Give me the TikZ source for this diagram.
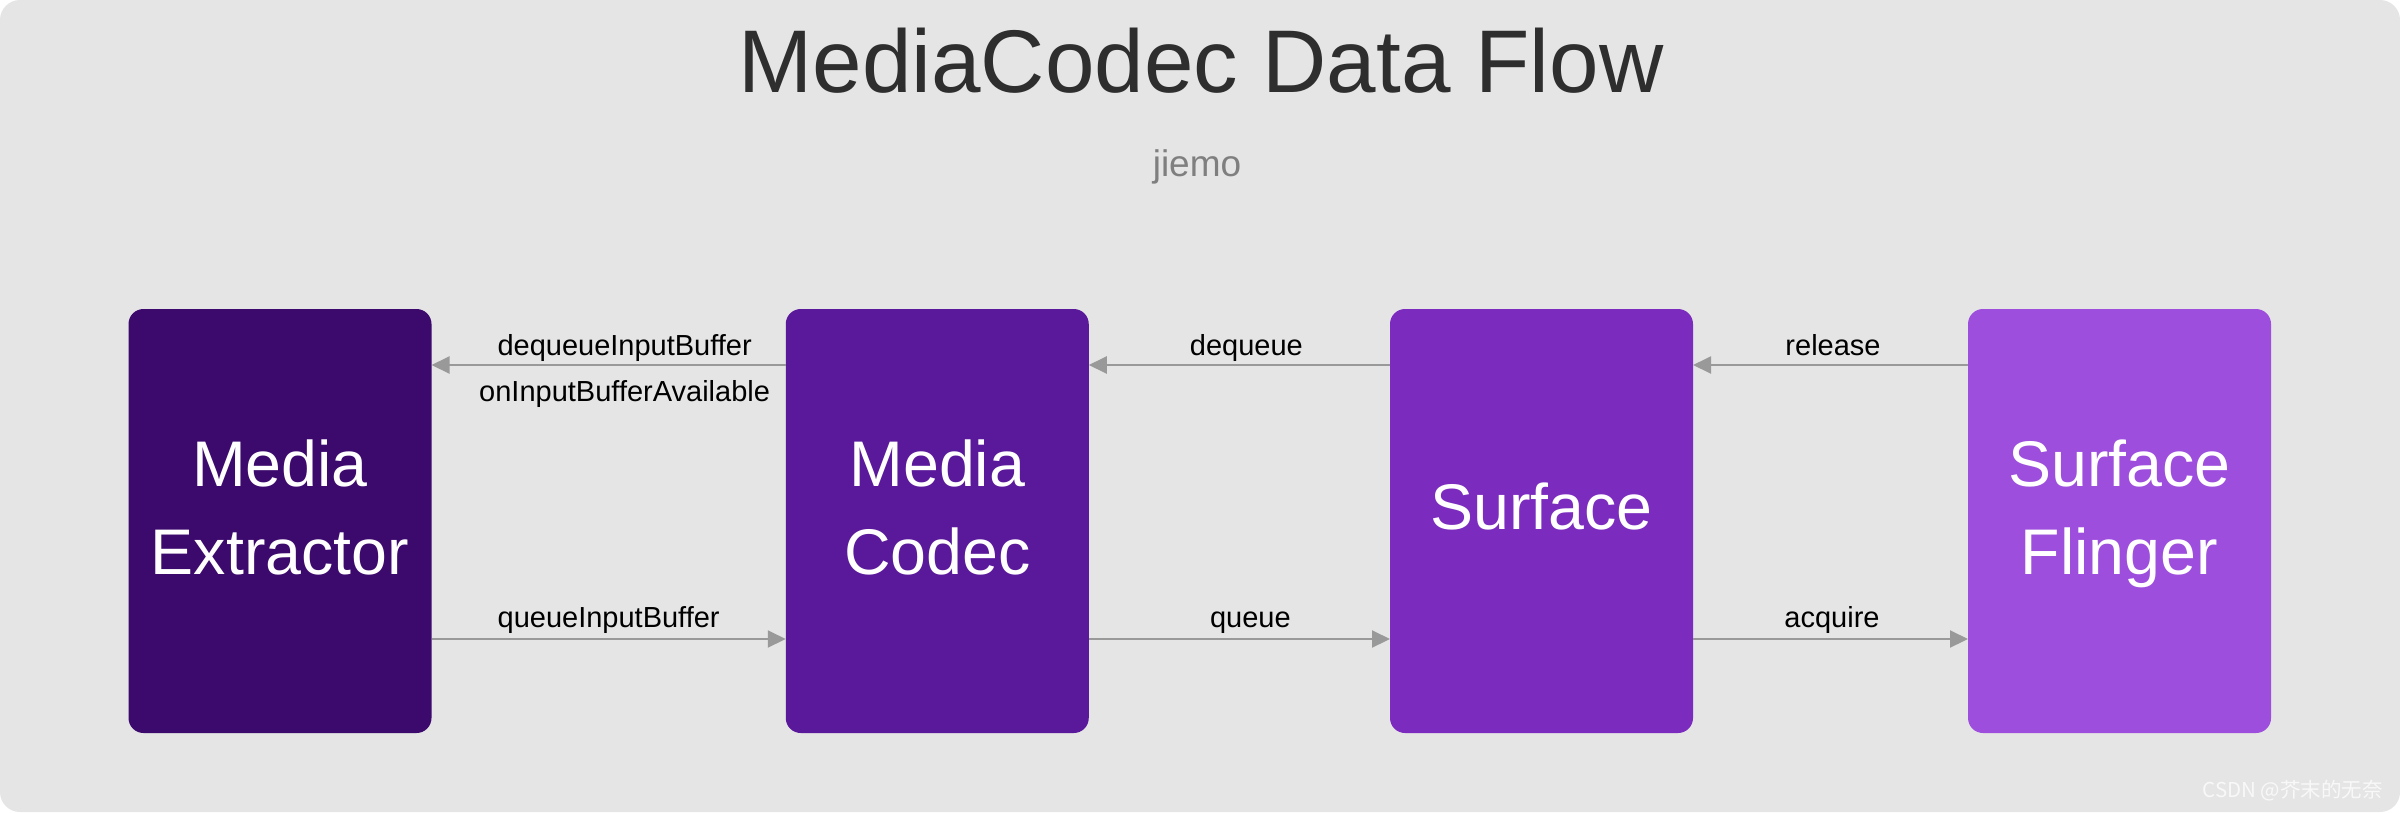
\documentclass[tikz,border=0pt]{standalone}
\usepackage{fontspec}
\setmainfont{Liberation Sans}
\newfontfamily\cjkfont{Noto Sans CJK SC}
\usetikzlibrary{arrows.meta}
\definecolor{bggray}{HTML}{E5E5E5}
\definecolor{titlegray}{HTML}{2E2E2E}
\definecolor{subgray}{HTML}{7F7F7F}
\definecolor{arrgray}{HTML}{999999}
\definecolor{cA}{HTML}{3C096C}
\definecolor{cB}{HTML}{5A189A}
\definecolor{cC}{HTML}{7B2CBF}
\definecolor{cD}{HTML}{9D4EDD}
\begin{document}
\begin{tikzpicture}[x=1pt,y=-1pt,
  boxnode/.style={draw=none, rounded corners=15pt, minimum width=303pt, minimum height=424pt, inner sep=0pt, outer sep=0pt},
  boxtext/.style={text=white, align=center, anchor=base, inner sep=0pt, font=\fontsize{64.5}{88}\selectfont},
  arr/.style={draw=arrgray, line width=2pt, -{Triangle[length=18pt,width=17pt]}},
  lbl/.style={text=black, anchor=base, inner sep=0pt, font=\fontsize{29}{34}\selectfont}
]
\useasboundingbox (0,0) rectangle (2400,812);
\fill[white] (0,0) rectangle (2400,812);
\fill[bggray, rounded corners=20pt] (0,0) rectangle (2400,812);

\node[anchor=base, inner sep=0pt, text=titlegray, font=\fontsize{89}{100}\selectfont] (title) at (1201,92) {MediaCodec Data Flow};
\node[anchor=base, inner sep=0pt, text=subgray, font=\fontsize{37}{44}\selectfont] (sub) at (1197,176) {jiemo};

\node[boxnode, fill=cA] (b1) at (280,521) {};
\node[boxnode, fill=cB] (b2) at (937.25,521) {};
\node[boxnode, fill=cC] (b3) at (1541.5,521) {};
\node[boxnode, fill=cD] (b4) at (2119.5,521) {};

\node[boxtext] (t1) at (280,574) {Media\\Extractor};
\node[boxtext] (t2) at (937.25,574) {Media\\Codec};
\node[boxtext] (t3) at (1541.5,529) {Surface};
\node[boxtext] (t4) at (2119.5,574) {Surface\\Flinger};

\coordinate (ytop) at (0,365);
\coordinate (ybot) at (0,639);

\draw[arr] (b2.west |- ytop) -- (b1.east |- ytop)
  node[lbl, pos=0.5, yshift=10pt, xshift=16pt] {dequeueInputBuffer}
  node[lbl, pos=0.5, yshift=-36pt, xshift=16pt] {onInputBufferAvailable};
\draw[arr] (b3.west |- ytop) -- (b2.east |- ytop)
  node[lbl, pos=0.5, yshift=10pt, xshift=7pt] {dequeue};
\draw[arr] (b4.west |- ytop) -- (b3.east |- ytop)
  node[lbl, pos=0.5, yshift=10pt, xshift=2.5pt] {release};

\draw[arr] (b1.east |- ybot) -- (b2.west |- ybot)
  node[lbl, pos=0.5, yshift=12pt] {queueInputBuffer};
\draw[arr] (b2.east |- ybot) -- (b3.west |- ybot)
  node[lbl, pos=0.5, yshift=12pt, xshift=11pt] {queue};
\draw[arr] (b3.east |- ybot) -- (b4.west |- ybot)
  node[lbl, pos=0.5, yshift=12pt, xshift=1.5pt] {acquire};

\node[anchor=base east, inner sep=0pt, text=white, opacity=0.75, font=\cjkfont\fontsize{20.5}{24}\selectfont] (wm) at (2383,797) {CSDN @芥末的无奈};
\end{tikzpicture}
\end{document}
